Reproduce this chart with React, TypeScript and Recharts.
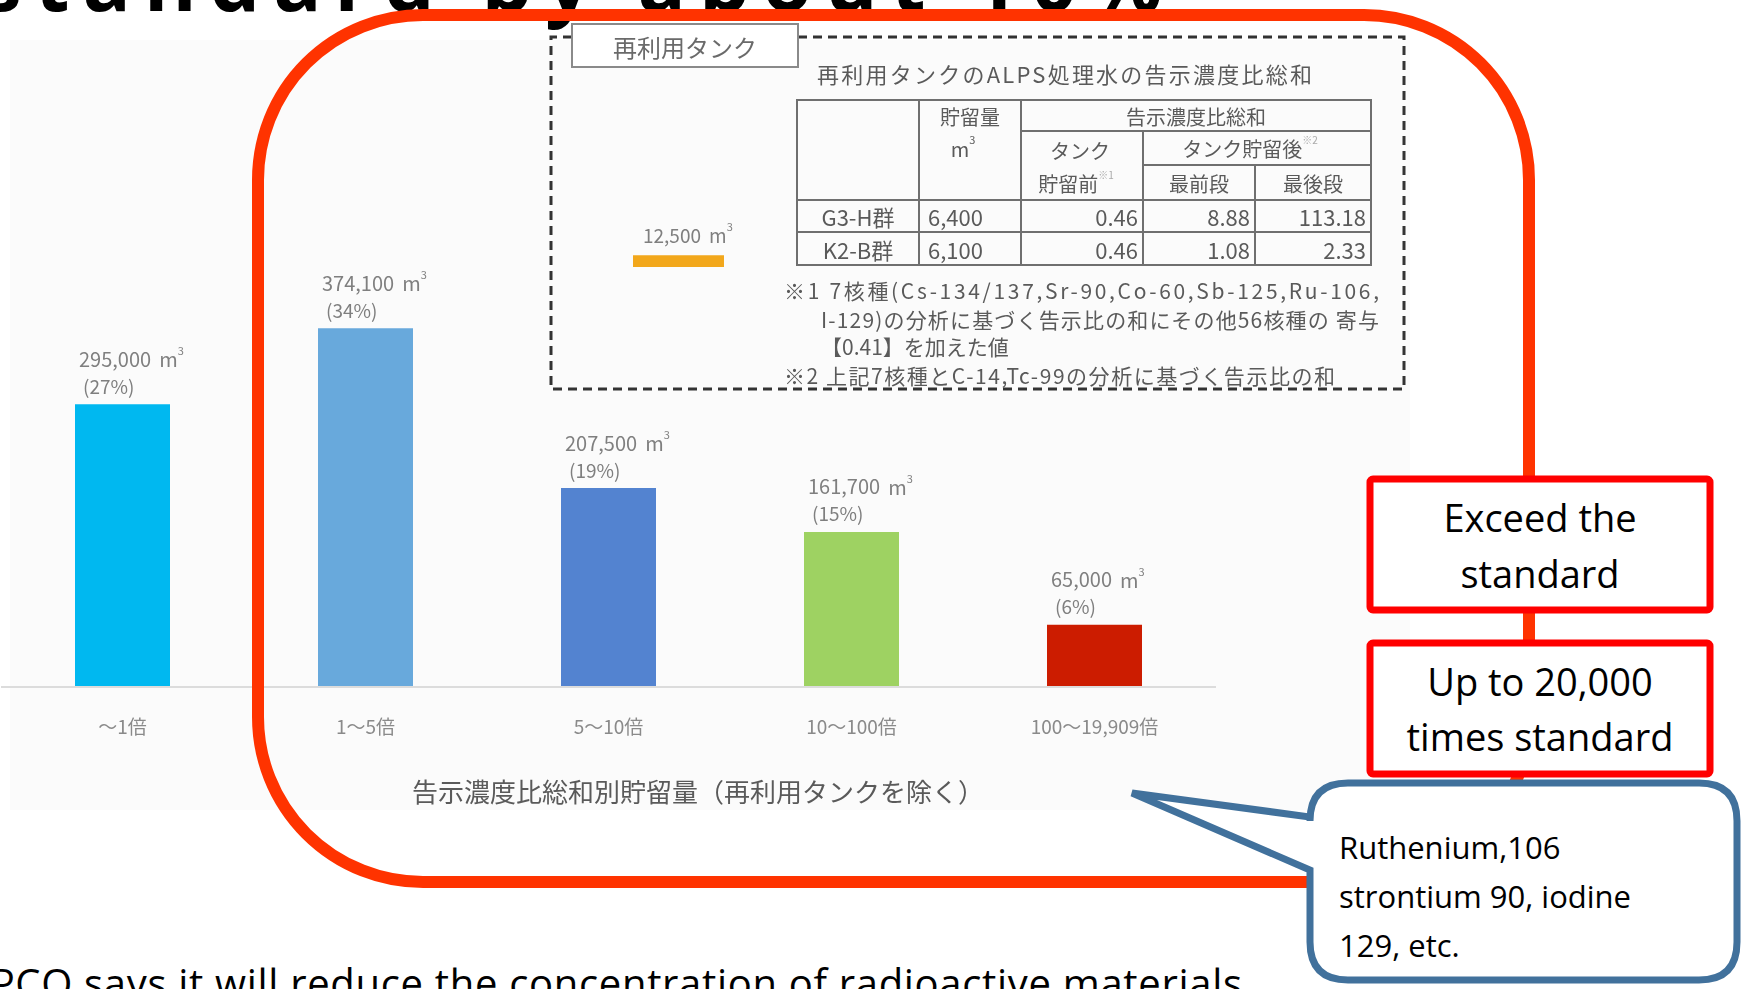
import React from 'react';
import { BarChart, Bar, XAxis, YAxis, Cell, LabelList } from 'recharts';

// Storage by sum of notification-concentration ratios (excluding reuse tanks)
const ranges = ['〜1倍', '1〜5倍', '5〜10倍', '10〜100倍', '100〜19,909倍'];
const volumes = [295000, 374100, 207500, 161700, 65000];
const shares = [27, 34, 19, 15, 6];
const barColors = ['#00b8f0', '#68a9dc', '#5383d0', '#9ed262', '#cc1c00'];

// Reuse tank, drawn on the same m³ scale
const reuseVolume = 12500;

// Reuse tank table
const tableGroups = ['G3-H群', 'K2-B群'];
const tableStored = ['6,400', '6,100'];
const tableBefore = ['0.46', '0.46'];
const tableFirst = ['8.88', '1.08'];
const tableLast = ['113.18', '2.33'];

const noteLines = [
  '※1 7核種(Cs-134/137,Sr-90,Co-60,Sb-125,Ru-106,',
  'I-129)の分析に基づく告示比の和にその他56核種の 寄与',
  '【0.41】を加えた値',
  '※2 上記7核種とC-14,Tc-99の分析に基づく告示比の和',
];

const calloutLines = ['Ruthenium,106', 'strontium 90, iodine', '129, etc.'];

const JP = '"Noto Sans CJK JP", "Noto Sans", sans-serif';
const EN = '"Open Sans", "Noto Sans", sans-serif';
const GREY = '#7f7f7f';

const Y_MAX = 680000;
const PLOT_H = 652;
const MINI_MAX = 20000;
const MINI_H = (MINI_MAX / Y_MAX) * PLOT_H;

const data = ranges.map((range, i) => ({ range, volume: volumes[i] }));
const reuseData = [{ name: '再利用タンク', volume: reuseVolume }];

const fmt = (v: number) => v.toLocaleString('en-US');

const RangeTick = ({ x, y, payload }: any) => (
  <text x={x} y={y + 30} textAnchor="middle" dominantBaseline="central" fill="#8a8a8a" fontSize={19} fontFamily={JP}>
    {payload.value}
  </text>
);

const VolumeLabel = (props: any) => {
  const { x, y, value, index } = props;
  return (
    <g fontFamily={JP} fill={GREY}>
      <text x={x + 4} y={y - 46} fontSize={20} dominantBaseline="central">
        {fmt(value)}
        <tspan dx={8}>m</tspan>
        <tspan fontSize={11} dy={-8}>3</tspan>
      </text>
      <text x={x + 8} y={y - 19} fontSize={19} dominantBaseline="central">
        ({shares[index]}%)
      </text>
    </g>
  );
};

const cols = [797, 919, 1021, 1143, 1255, 1371];
const rows = [100, 131, 165, 200, 232, 265];

const ReuseTable = () => (
  <g fontFamily={JP} fill="#5a5a5a" fontSize={20}>
    <g stroke="#6f6f6f" strokeWidth={2} fill="none">
      <rect x={cols[0]} y={rows[0]} width={cols[5] - cols[0]} height={rows[5] - rows[0]} />
      <line x1={cols[2]} y1={rows[1]} x2={cols[5]} y2={rows[1]} />
      <line x1={cols[3]} y1={rows[2]} x2={cols[5]} y2={rows[2]} />
      <line x1={cols[0]} y1={rows[3]} x2={cols[5]} y2={rows[3]} />
      <line x1={cols[0]} y1={rows[4]} x2={cols[5]} y2={rows[4]} />
      <line x1={cols[1]} y1={rows[0]} x2={cols[1]} y2={rows[5]} />
      <line x1={cols[2]} y1={rows[0]} x2={cols[2]} y2={rows[5]} />
      <line x1={cols[3]} y1={rows[1]} x2={cols[3]} y2={rows[5]} />
      <line x1={cols[4]} y1={rows[2]} x2={cols[4]} y2={rows[5]} />
    </g>
    <g dominantBaseline="central" textAnchor="middle">
      <text x={970} y={116}>貯留量</text>
      <text x={963} y={148}>
        m<tspan fontSize={11} dy={-9}>3</tspan>
      </text>
      <text x={1196} y={116}>告示濃度比総和</text>
      <text x={1080} y={150}>タンク</text>
      <text x={1076} y={183}>
        貯留前<tspan fontSize={10} dy={-9} fill="#aaa">※1</tspan>
      </text>
      <text x={1250} y={148}>
        タンク貯留後<tspan fontSize={10} dy={-9} fill="#aaa">※2</tspan>
      </text>
      <text x={1199} y={183}>最前段</text>
      <text x={1313} y={183}>最後段</text>
    </g>
    {tableGroups.map((g, i) => {
      const cy = (rows[3 + i] + rows[4 + i]) / 2;
      return (
        <g key={g} dominantBaseline="central" fontSize={22}>
          <text x={858} y={cy} textAnchor="middle">{g}</text>
          <text x={928} y={cy}>{tableStored[i]}</text>
          <text x={cols[3] - 5} y={cy} textAnchor="end">{tableBefore[i]}</text>
          <text x={cols[4] - 5} y={cy} textAnchor="end">{tableFirst[i]}</text>
          <text x={cols[5] - 5} y={cy} textAnchor="end">{tableLast[i]}</text>
        </g>
      );
    })}
  </g>
);

export default function App() {
  return (
    <div style={{ position: 'absolute', left: 0, top: 0, width: 1744, height: 989, overflow: 'hidden', background: '#fff' }}>
      {/* pasted slide graphic */}
      <div style={{ position: 'absolute', left: 0, top: 0, width: 1744, height: 989, filter: 'blur(0.5px)' }}>
        <svg width={1744} height={989} style={{ position: 'absolute', left: 0, top: 0 }}>
          <rect x={10} y={40} width={1400} height={770} fill="#fbfbfb" />
        </svg>

        <div style={{ position: 'absolute', left: 0, top: 0 }}>
          <BarChart width={1230} height={820} data={data} margin={{ top: 35, right: 14, left: 1, bottom: 23 }} barSize={95}>
            <YAxis hide domain={[0, Y_MAX]} />
            <XAxis
              dataKey="range"
              height={110}
              axisLine={{ stroke: '#dcdcdc', strokeWidth: 2 }}
              tickLine={false}
              tick={<RangeTick />}
              interval={0}
            />
            <Bar dataKey="volume" isAnimationActive={false}>
              {data.map((d, i) => (
                <Cell key={d.range} fill={barColors[i]} />
              ))}
              <LabelList dataKey="volume" content={<VolumeLabel />} />
            </Bar>
          </BarChart>
        </div>

        <div style={{ position: 'absolute', left: 633, top: 267 - MINI_H }}>
          <BarChart width={91} height={MINI_H} data={reuseData} margin={{ top: 0, right: 0, left: 0, bottom: 0 }} barCategoryGap={0}>
            <YAxis hide domain={[0, MINI_MAX]} />
            <XAxis hide dataKey="name" />
            <Bar dataKey="volume" fill="#f2a71b" isAnimationActive={false} />
          </BarChart>
        </div>

        <svg width={1744} height={989} style={{ position: 'absolute', left: 0, top: 0 }}>
          {/* dashed reuse-tank panel */}
          <g stroke="#333" strokeWidth={3} strokeDasharray="9 6" fill="none">
            <polyline points="572,37 551,37 551,389 1404,389 1404,37 798,37" />
          </g>
          <rect x={572} y={24} width={226} height={43} fill="#fff" stroke="#8a8a8a" strokeWidth={2} />
          <text x={685} y={46} textAnchor="middle" dominantBaseline="central" fontFamily={JP} fontSize={24} fill="#6a6a6a">
            再利用タンク
          </text>
          <text x={817} y={73} dominantBaseline="central" fontFamily={JP} fontSize={22} fill="#5a5a5a" textLength={495}>
            再利用タンクのALPS処理水の告示濃度比総和
          </text>
          <ReuseTable />
          <text x={643} y={234} dominantBaseline="central" fontFamily={JP} fontSize={19} fill={GREY}>
            {fmt(reuseVolume)}
            <tspan dx={8}>m</tspan>
            <tspan fontSize={11} dy={-8}>3</tspan>
          </text>
          <g fontFamily={JP} fontSize={21} fill="#5a5a5a" dominantBaseline="central">
            <text x={784} y={290} textLength={595}>{noteLines[0]}</text>
            <text x={821} y={319} textLength={558}>{noteLines[1]}</text>
            <text x={821} y={346}>{noteLines[2]}</text>
            <text x={784} y={375} textLength={551}>{noteLines[3]}</text>
          </g>
          <text x={698} y={790} textAnchor="middle" dominantBaseline="central" fontFamily={JP} fontSize={26} fill="#5a5a5a">
            告示濃度比総和別貯留量（再利用タンクを除く）
          </text>
        </svg>
      </div>

      {/* slide annotations */}
      <svg width={1744} height={989} style={{ position: 'absolute', left: 0, top: 0 }}>
        <text x={-18} y={11} fontFamily={EN} fontWeight={700} fontSize={80} fill="#000" textLength={1180}>
          standard by about 10%
        </text>
        <rect x={258} y={15} width={1271} height={867} rx={165} ry={165} fill="none" stroke="#ff3300" strokeWidth={12} />

        <rect x={1370} y={479} width={340} height={131} rx={3} fill="#fff" stroke="#ff0000" strokeWidth={7} />
        <g fontFamily={EN} fontSize={38} fill="#000" textAnchor="middle" dominantBaseline="central">
          <text x={1540} y={517}>Exceed the</text>
          <text x={1540} y={573}>standard</text>
        </g>
        <rect x={1370} y={643} width={340} height={131} rx={3} fill="#fff" stroke="#ff0000" strokeWidth={7} />
        <g fontFamily={EN} fontSize={38} fill="#000" textAnchor="middle" dominantBaseline="central">
          <text x={1540} y={681}>Up to 20,000</text>
          <text x={1540} y={736}>times standard</text>
        </g>

        <path
          d="M1348,783 L1699,783 Q1737,783 1737,821 L1737,942 Q1737,980 1699,980 L1348,980 Q1310,980 1310,942 L1310,870 L1132,793 L1310,817 L1310,821 Q1310,783 1348,783 Z"
          fill="#fff"
          stroke="#41719c"
          strokeWidth={7}
          strokeLinejoin="miter"
        />
        <g fontFamily={EN} fontSize={31} fill="#000" dominantBaseline="central">
          {calloutLines.map((line, i) => (
            <text key={line} x={1339} y={847 + i * 49}>{line}</text>
          ))}
        </g>

        <text x={-55} y={998} fontFamily={EN} fontSize={40} fill="#000" textLength={1297}>
          TEPCO says it will reduce the concentration of radioactive materials
        </text>
      </svg>
    </div>
  );
}
